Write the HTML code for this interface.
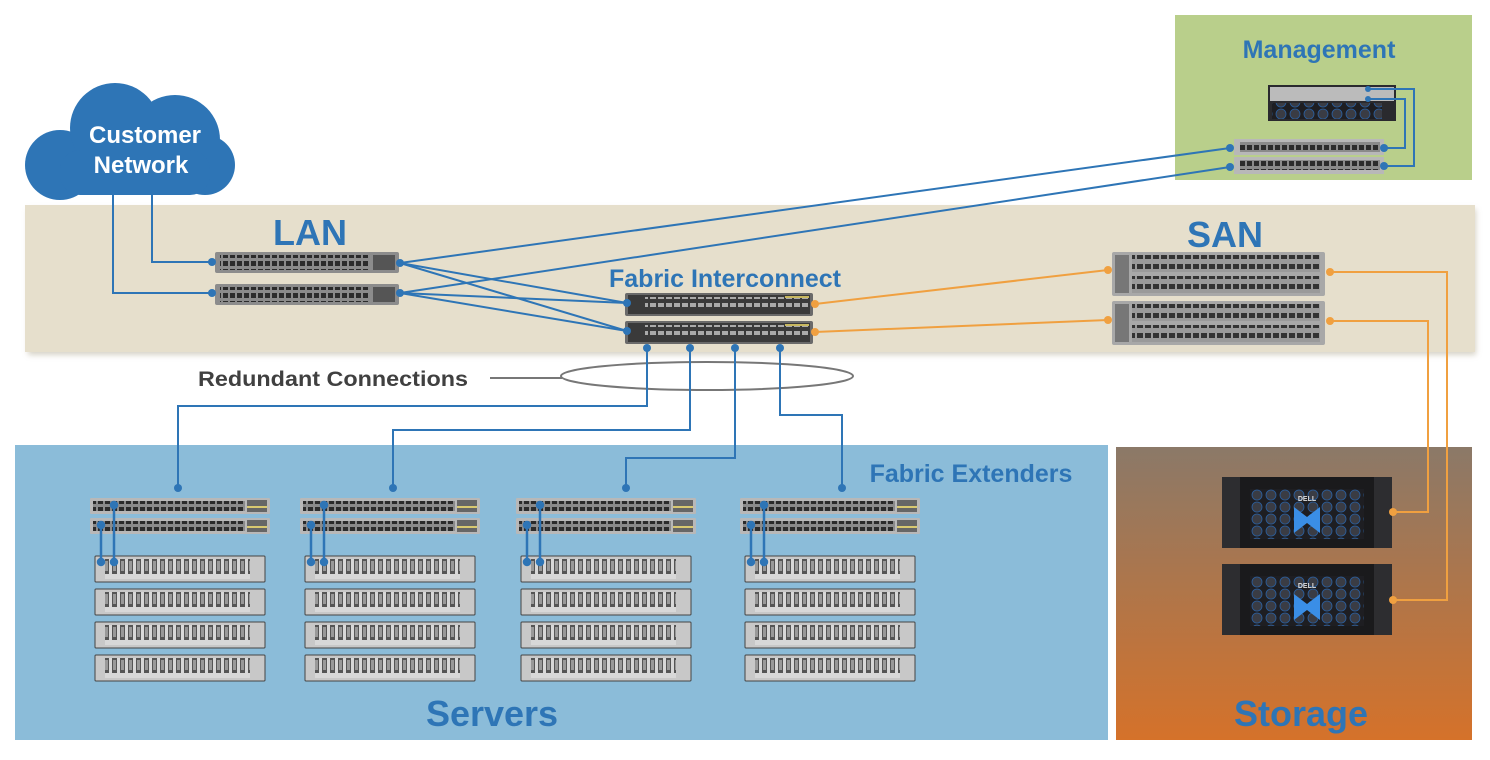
<!DOCTYPE html>
<html><head><meta charset="utf-8"><style>
html,body{margin:0;padding:0;background:#fff;}
svg{display:block;font-family:"Liberation Sans",sans-serif;}
</style></head><body>
<svg width="1490" height="760" viewBox="0 0 1490 760" xmlns="http://www.w3.org/2000/svg">
<defs>
<pattern id="port" width="7" height="8" patternUnits="userSpaceOnUse"><rect width="7" height="8" fill="#8a8a8a"/><rect x="1" y="1" width="5" height="5" fill="#2b2b2b"/></pattern>
<pattern id="portd" width="8" height="8" patternUnits="userSpaceOnUse"><rect width="8" height="8" fill="#3a3a3a"/><rect x="1" y="2" width="6" height="4" fill="#aaa"/></pattern>
<pattern id="srv" width="8" height="20" patternUnits="userSpaceOnUse"><rect width="8" height="20" fill="#d8d8d8"/><rect x="1" y="3" width="5" height="15" fill="#555"/><rect x="2" y="5" width="3" height="10" fill="#999"/></pattern>
<pattern id="san" width="8" height="10" patternUnits="userSpaceOnUse"><rect width="8" height="10" fill="#9a9a9a"/><rect x="1" y="2" width="6" height="5" fill="#333"/></pattern>
<pattern id="hex" width="14" height="12" patternUnits="userSpaceOnUse"><rect width="14" height="12" fill="#1e1e22"/><circle cx="7" cy="6" r="5" fill="#3a3c44" stroke="#2a5fa0" stroke-width="0.8"/></pattern>
<linearGradient id="stg" x1="0" y1="0" x2="0" y2="1"><stop offset="0" stop-color="#8b7968"/><stop offset="1" stop-color="#d5722a"/></linearGradient>
<filter id="sh" x="-5%" y="-10%" width="110%" height="120%"><feGaussianBlur stdDeviation="3"/></filter>
<g id="lansw"><rect width="184" height="21" rx="2" fill="#8c8c8c"/><rect x="5" y="3" width="150" height="15" fill="url(#port)"/><rect x="158" y="3" width="22" height="15" fill="#555"/></g>
<g id="fisw"><rect width="188" height="23" rx="2" fill="#6a6a6a"/><rect x="3" y="2" width="182" height="19" fill="#3a3a3a"/><rect x="20" y="4" width="140" height="14" fill="url(#portd)"/><rect x="160" y="4" width="24" height="14" fill="url(#portd)"/><rect x="160" y="3" width="24" height="2" fill="#c8b860"/></g>
<g id="sansw"><rect width="213" height="44" rx="2" fill="#a8a8a8"/><rect x="20" y="3" width="188" height="17" fill="url(#san)"/><rect x="20" y="24" width="188" height="17" fill="url(#san)"/><rect x="3" y="3" width="14" height="38" fill="#777"/></g>
<g id="fex"><rect width="180" height="16" rx="1" fill="#b8b8b8"/><rect x="3" y="3" width="152" height="10" fill="url(#port)"/><rect x="157" y="2" width="20" height="12" fill="#666"/><rect x="157" y="8" width="20" height="2" fill="#d8c870"/></g>
<g id="server"><rect width="170" height="26" rx="1" fill="#c8c8c8" stroke="#444" stroke-width="1"/><rect x="10" y="3" width="145" height="20" fill="url(#srv)"/></g>
<g id="array"><rect width="170" height="71" fill="#1a1a1c"/><rect x="28" y="12" width="114" height="50" fill="url(#hex)"/><rect x="0" y="0" width="18" height="71" fill="#2d2d30"/><rect x="152" y="0" width="18" height="71" fill="#2d2d30"/><text x="85" y="24" fill="#ddd" font-size="7" text-anchor="middle" font-weight="bold">DELL</text><path d="M72 30 L85 40 L98 30 L98 56 L85 46 L72 56 Z" fill="#3a8ee6"/></g>
</defs>

<rect x="1175" y="15" width="297" height="165" fill="#b9cf8b"/>
<text x="1319" y="58" fill="#2e75b6" font-size="25" font-weight="bold" text-anchor="middle">Management</text>
<rect x="1268" y="85" width="128" height="36" fill="#2a2a2e"/><rect x="1270" y="87" width="124" height="14" fill="#bbb"/><rect x="1272" y="103" width="110" height="16" fill="url(#hex)"/>
<rect x="1234" y="139" width="150" height="16" fill="#b8b8b8"/><rect x="1240" y="142" width="140" height="10" fill="url(#port)"/>
<rect x="1234" y="157" width="150" height="17" fill="#b8b8b8"/><rect x="1240" y="160" width="140" height="10" fill="url(#port)"/>

<rect x="28" y="209" width="1448" height="146" fill="#b0a890" opacity="0.5" filter="url(#sh)"/>
<rect x="25" y="205" width="1450" height="147" fill="#e6dfcc"/>

<rect x="15" y="445" width="1093" height="295" fill="#8bbcd9"/>
<rect x="1116" y="447" width="356" height="293" fill="url(#stg)"/>

<g fill="#2e75b6">
<circle cx="60" cy="165" r="35"/><circle cx="115" cy="128" r="45"/><circle cx="175" cy="140" r="45"/><circle cx="205" cy="165" r="30"/>
<rect x="60" y="150" width="150" height="45" rx="20"/>
</g>
<text x="145" y="143" fill="#fff" font-size="24" font-weight="bold" text-anchor="middle">Customer</text>
<text x="141" y="173" fill="#fff" font-size="24" font-weight="bold" text-anchor="middle">Network</text>

<text x="310" y="245" fill="#2e75b6" font-size="36" font-weight="bold" text-anchor="middle">LAN</text>
<text x="1225" y="247" fill="#2e75b6" font-size="36" font-weight="bold" text-anchor="middle">SAN</text>
<text x="725" y="287" fill="#2e75b6" font-size="25" font-weight="bold" text-anchor="middle">Fabric Interconnect</text>
<text x="971" y="482" fill="#2e75b6" font-size="25" font-weight="bold" text-anchor="middle">Fabric Extenders</text>
<text x="492" y="726" fill="#2e75b6" font-size="36" font-weight="bold" text-anchor="middle">Servers</text>
<text x="1301" y="726" fill="#2e75b6" font-size="36" font-weight="bold" text-anchor="middle">Storage</text>
<text x="198" y="386" fill="#404040" font-size="21" font-weight="bold" textLength="270" lengthAdjust="spacingAndGlyphs">Redundant Connections</text>
<line x1="490" y1="378" x2="562" y2="378" stroke="#777" stroke-width="2"/>
<ellipse cx="707" cy="376" rx="146" ry="14" fill="none" stroke="#777" stroke-width="2"/>

<use href="#lansw" x="215" y="252"/><use href="#lansw" x="215" y="284"/>
<use href="#fisw" x="625" y="293"/><use href="#fisw" x="625" y="321"/>
<use href="#sansw" x="1112" y="252"/><use href="#sansw" x="1112" y="301"/>
<use href="#array" x="1222" y="477"/><use href="#array" x="1222" y="564"/>

<g id="grp">
<use href="#fex" x="90" y="498"/><use href="#fex" x="90" y="518"/>
<use href="#server" x="95" y="556"/><use href="#server" x="95" y="589"/><use href="#server" x="95" y="622"/><use href="#server" x="95" y="655"/>
<g stroke="#2e75b6" stroke-width="2.5" fill="#2e75b6"><line x1="114" y1="505" x2="114" y2="562"/><line x1="101" y1="525" x2="101" y2="562"/><circle cx="114" cy="505" r="3"/><circle cx="101" cy="525" r="3"/><circle cx="114" cy="562" r="3"/><circle cx="101" cy="562" r="3"/></g>
</g>
<use href="#grp" x="210"/><use href="#grp" x="426"/><use href="#grp" x="650"/>

<g stroke="#2e75b6" stroke-width="2" fill="none">
<polyline points="152,195 152,262 212,262"/>
<polyline points="113,195 113,293 212,293"/>
<line x1="400" y1="263" x2="627" y2="303"/><line x1="400" y1="263" x2="627" y2="331"/>
<line x1="400" y1="293" x2="627" y2="303"/><line x1="400" y1="293" x2="627" y2="331"/>
<line x1="400" y1="263" x2="1230" y2="148"/><line x1="400" y1="293" x2="1230" y2="167"/>
<polyline points="1368,89 1414,89 1414,166 1384,166"/>
<polyline points="1368,99 1405,99 1405,148 1384,148"/>
<polyline points="647,348 647,406 178,406 178,488"/>
<polyline points="690,348 690,430 393,430 393,488"/>
<polyline points="735,348 735,458 626,458 626,488"/>
<polyline points="780,348 780,415 842,415 842,488"/>
</g>
<g fill="#2e75b6">
<circle cx="212" cy="262" r="4"/><circle cx="212" cy="293" r="4"/><circle cx="400" cy="263" r="4"/><circle cx="400" cy="293" r="4"/>
<circle cx="627" cy="303" r="4"/><circle cx="627" cy="331" r="4"/><circle cx="1230" cy="148" r="4"/><circle cx="1230" cy="167" r="4"/>
<circle cx="1384" cy="148" r="4"/><circle cx="1384" cy="166" r="4"/><circle cx="1368" cy="89" r="3"/><circle cx="1368" cy="99" r="3"/>
<circle cx="647" cy="348" r="4"/><circle cx="690" cy="348" r="4"/><circle cx="735" cy="348" r="4"/><circle cx="780" cy="348" r="4"/>
<circle cx="178" cy="488" r="4"/><circle cx="393" cy="488" r="4"/><circle cx="626" cy="488" r="4"/><circle cx="842" cy="488" r="4"/>
</g>

<g stroke="#f0a040" stroke-width="2" fill="none">
<line x1="815" y1="304" x2="1108" y2="270"/><line x1="815" y1="332" x2="1108" y2="320"/>
<polyline points="1330,272 1447,272 1447,600 1393,600"/>
<polyline points="1330,321 1428,321 1428,512 1393,512"/>
</g>
<g fill="#f0a040">
<circle cx="815" cy="304" r="4"/><circle cx="815" cy="332" r="4"/><circle cx="1108" cy="270" r="4"/><circle cx="1108" cy="320" r="4"/>
<circle cx="1330" cy="272" r="4"/><circle cx="1330" cy="321" r="4"/><circle cx="1393" cy="600" r="4"/><circle cx="1393" cy="512" r="4"/>
</g>
</svg>
</body></html>
